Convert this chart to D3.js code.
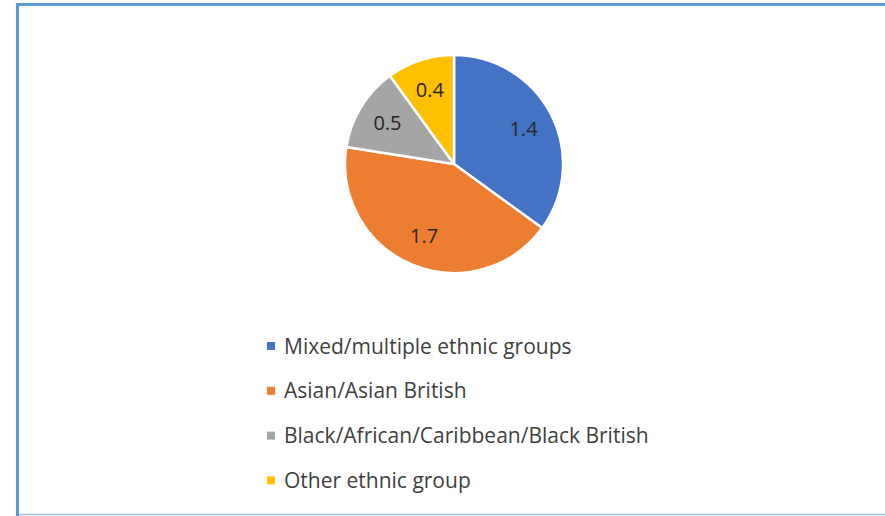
<!DOCTYPE html>
<html>
<head>
<meta charset="utf-8">
<script src="https://cdn.jsdelivr.net/npm/d3@7"></script>
<style>
  body { margin: 0; background: #fff; }
  text { font-family: "Open Sans", Lato, sans-serif; }
</style>
</head>
<body>
<div id="chart"></div>
<script>
// chart data
var categories = ["Mixed/multiple ethnic groups", "Asian/Asian British",
    "Black/African/Caribbean/Black British", "Other ethnic group"];
var values = [1.4, 1.7, 0.5, 0.4];
var colors = ["#4472C4", "#ED7D31", "#A5A5A5", "#FFC000"];

var width = 885, height = 516;

var svg = d3.select("#chart").append("svg")
    .attr("width", width)
    .attr("height", height);

// chart frame (left, top, bottom edges visible)
svg.append("line").attr("x1", 17.5).attr("x2", 17.5).attr("y1", 3).attr("y2", 516)
    .attr("stroke", "#5B9BD5").attr("stroke-width", 3);
svg.append("line").attr("x1", 16).attr("x2", 885).attr("y1", 4.5).attr("y2", 4.5)
    .attr("stroke", "#5B9BD5").attr("stroke-width", 3);
svg.append("line").attr("x1", 19).attr("x2", 885).attr("y1", 514.5).attr("y2", 514.5)
    .attr("stroke", "#9DC3E6").attr("stroke-width", 1.5);

// pie
var cx = 454, cy = 164, radius = 109;
var color = d3.scaleOrdinal().domain(categories).range(colors);

var pie = d3.pie().sort(null).value(function(d, i) { return values[i]; });
var arc = d3.arc().innerRadius(0).outerRadius(radius);
var labelArc = d3.arc().innerRadius(78).outerRadius(78);

var g = svg.append("g")
    .attr("transform", "translate(" + cx + "," + cy + ")");

var slices = g.selectAll(".slice")
    .data(pie(categories))
    .enter().append("g")
    .attr("class", "slice");

slices.append("path")
    .attr("d", arc)
    .attr("fill", function(d) { return color(d.data); })
    .attr("stroke", "#fff")
    .attr("stroke-width", 2.5)
    .attr("stroke-linejoin", "round");

slices.append("text")
    .attr("transform", function(d) { return "translate(" + labelArc.centroid(d) + ")"; })
    .attr("text-anchor", "middle")
    .attr("dy", "0.36em")
    .attr("font-size", 20)
    .attr("fill", "#262626")
    .text(function(d) { return d.value; });

// legend
var legend = svg.selectAll(".legend")
    .data(categories)
    .enter().append("g")
    .attr("class", "legend")
    .attr("transform", function(d, i) { return "translate(267," + (346 + i * 44.8) + ")"; });

legend.append("rect")
    .attr("x", 0).attr("y", -4)
    .attr("width", 8).attr("height", 8)
    .attr("fill", function(d) { return color(d); });

legend.append("text")
    .attr("x", 17)
    .attr("y", 7.5)
    .attr("font-size", 21)
    .attr("fill", "#404040")
    .text(function(d) { return d; });
</script>
</body>
</html>
